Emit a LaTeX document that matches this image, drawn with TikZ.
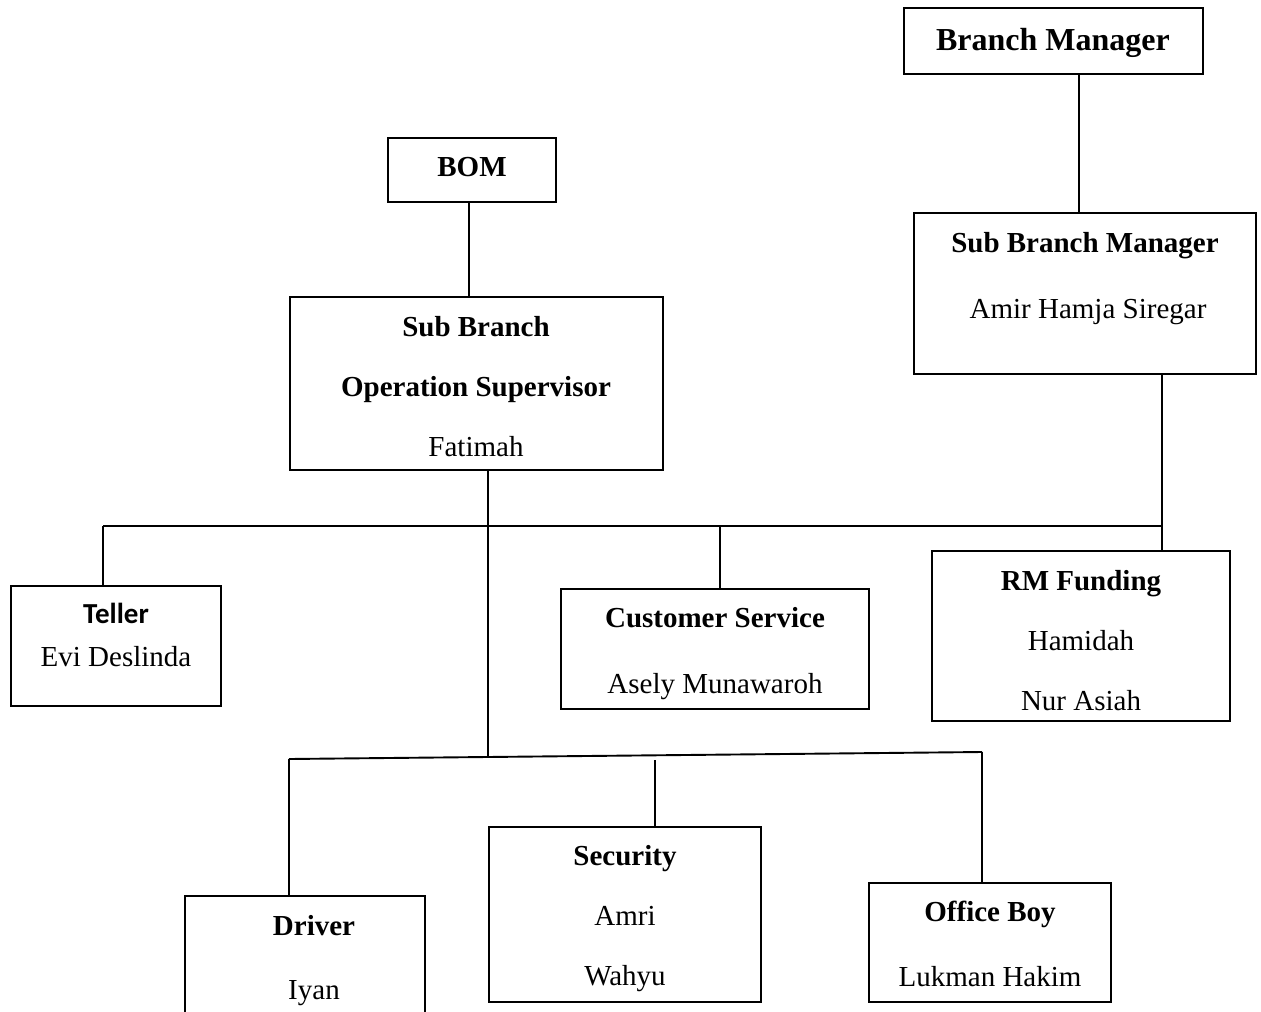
\documentclass[tikz,border=0pt]{standalone}
\usepackage{fontspec}
\setmainfont{Liberation Serif}
\newfontfamily\calib{Carlito}
\usetikzlibrary{fit}
\tikzset{
  box/.style={draw=black, line width=1.9pt, inner sep=0pt, fill=white},
  conn/.style={draw=black, line width=1.9pt},
  ttl/.style={anchor=base, inner sep=0pt, font=\fontsize{29}{34}\selectfont\bfseries},
  txt/.style={anchor=base, inner sep=0pt, font=\fontsize{29}{34}\selectfont},
  big/.style={anchor=base, inner sep=0pt, font=\fontsize{32}{38}\selectfont\bfseries},
  sans/.style={anchor=base, inner sep=0pt, font=\fontsize{29}{34}\selectfont\calib\bfseries}
}
\begin{document}
\begin{tikzpicture}[x=1pt,y=-1pt]
\useasboundingbox (0,0) rectangle (1261,1012);
\clip (0,0) rectangle (1261,1012);
\fill[white] (0,0) rectangle (1261,1012);
% boxes
\node[box, fit={(904,8)(1203,74)}] (bm) {};
\node[box, fit={(388,138)(556,202)}] (bom) {};
\node[box, fit={(914,213)(1256,374)}] (sbm) {};
\node[box, fit={(290,297)(663,470)}] (sbos) {};
\node[box, fit={(11,586)(221,706)}] (teller) {};
\node[box, fit={(561,589)(869,709)}] (cs) {};
\node[box, fit={(932,551)(1230,721)}] (rm) {};
\node[box, fit={(185,896)(425,1040)}] (drv) {};
\node[box, fit={(489,827)(761,1002)}] (sec) {};
\node[box, fit={(869,883)(1111,1002)}] (ob) {};
% junction coordinates
\coordinate (jr) at (1162,526);
\coordinate (jl) at (103,526);
\coordinate (jc) at (720,526);
\coordinate (js) at (488,757);
\coordinate (bl) at (289,759);
\coordinate (br) at (982,752);
\coordinate (bm2) at (655,760);
% connectors
\draw[conn] (sbm.north -| 1079,0) -- (bm.south -| 1079,0);
\draw[conn] (bom.south -| 469,0) -- (sbos.north -| 469,0);
\draw[conn] (sbm.south -| jr) -- (rm.north -| jr);
\draw[conn] (jl) -- (jr);
\draw[conn] (jl) -- (teller.north -| jl);
\draw[conn] (jc) -- (cs.north -| jc);
\draw[conn] (sbos.south -| js) -- (js);
\draw[conn] (bl) -- (br);
\draw[conn] (bl) -- (drv.north -| bl);
\draw[conn] (bm2) -- (sec.north -| bm2);
\draw[conn] (br) -- (ob.north -| br);
% texts
\node[big] (t1) at (1053,50) {Branch Manager};
\node[ttl] (t2) at (472,176) {BOM};
\node[ttl] (t3) at (1085,252) {Sub Branch Manager};
\node[txt] (t4) at (1088,318) {Amir Hamja Siregar};
\node[ttl] (t5) at (476,336) {Sub Branch};
\node[ttl] (t6) at (476,396) {Operation Supervisor};
\node[txt] (t7) at (476,456) {Fatimah};
\node[sans] (t8) at (116,623) {Teller};
\node[txt] (t9) at (116,666) {Evi Deslinda};
\node[ttl] (t10) at (715,627) {Customer Service};
\node[txt] (t11) at (715,693) {Asely Munawaroh};
\node[ttl] (t12) at (1081,590) {RM Funding};
\node[txt] (t13) at (1081,650) {Hamidah};
\node[txt] (t14) at (1081,710) {Nur Asiah};
\node[ttl] (t15) at (314,935) {Driver};
\node[txt] (t16) at (314,999) {Iyan};
\node[ttl] (t17) at (625,865) {Security};
\node[txt] (t18) at (625,925) {Amri};
\node[txt] (t19) at (625,985) {Wahyu};
\node[ttl] (t20) at (990,921) {Office Boy};
\node[txt] (t21) at (990,986) {Lukman Hakim};
\end{tikzpicture}
\end{document}
